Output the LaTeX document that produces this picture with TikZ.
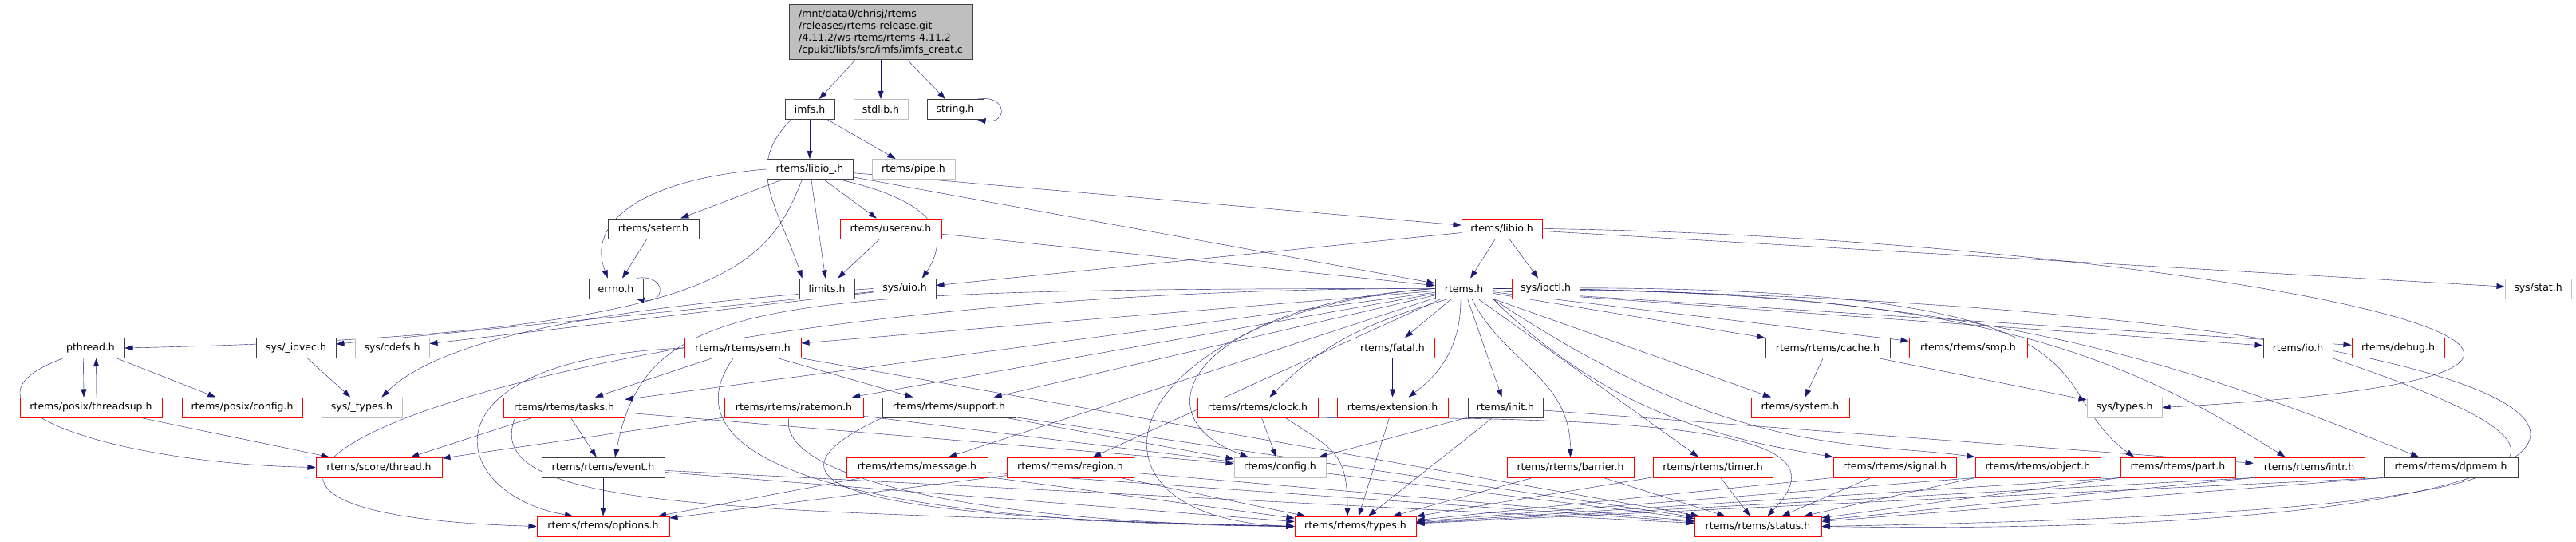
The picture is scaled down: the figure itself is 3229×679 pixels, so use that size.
\documentclass[tikz,border=0pt]{standalone}
\usepackage{fontspec}
\setmainfont{DejaVu Sans}
\usetikzlibrary{arrows.meta}
\definecolor{edgeblue}{RGB}{25,25,112}
\definecolor{boxgray}{RGB}{191,191,191}
\definecolor{boxdark}{RGB}{64,64,64}
\definecolor{boxred}{RGB}{255,0,0}
\pgfdeclarelayer{bg}
\pgfsetlayers{bg,main}

\begin{document}
\begin{tikzpicture}[x=1pt, y=-1pt, line width=1pt,
    >={Triangle[length=10pt,width=7pt]},
    filebox/.style={rectangle, fill=white, inner sep=0pt, minimum height=25,
        font=\fontsize{12.5}{15}\selectfont}]

    \useasboundingbox (0,0) rectangle (3229,679);

    \node[filebox, draw=boxdark, fill=boxgray, align=left, minimum width=230, minimum height=69] (top) at (1104,40.5)
        {/mnt/data0/chrisj/rtems\\/releases/rtems-release.git\\/4.11.2/ws-rtems/rtems-4.11.2\\/cpukit/libfs/src/imfs/imfs\_creat.c};

    \begin{scope}[every node/.style={filebox, draw=boxdark}]
    \node[minimum width=62] (imfs) at (1015,137) {imfs.h};
    \node[minimum width=71] (string) at (1197.5,137) {string.h};
    \node[minimum width=108] (libiou) at (1015,212) {rtems/libio\_.h};
    \node[minimum width=114] (seterr) at (819,286.5) {rtems/seterr.h};
    \node[minimum width=68] (errno) at (772,361.5) {errno.h};
    \node[minimum width=69] (limits) at (1036.5,361.5) {limits.h};
    \node[minimum width=78] (uio) at (1134,361.5) {sys/uio.h};
    \node[minimum width=72] (rtems) at (1835,361.5) {rtems.h};
    \node[minimum width=85] (pthread) at (113.5,436) {pthread.h};
    \node[minimum width=100] (iovec) at (371,436) {sys/\_iovec.h};
    \node[minimum width=156] (cache) at (2291,436) {rtems/rtems/cache.h};
    \node[minimum width=87] (io) at (2880.5,436) {rtems/io.h};
    \node[minimum width=167] (support) at (1189.5,510.5) {rtems/rtems/support.h};
    \node[minimum width=94] (init) at (1887,510.5) {rtems/init.h};
    \node[minimum width=154] (event) at (756,585.5) {rtems/rtems/event.h};
    \node[minimum width=168] (dpmem) at (3072,585.5) {rtems/rtems/dpmem.h};
    \end{scope}

    \begin{scope}[every node/.style={filebox, draw=boxred}]
    \node[minimum width=127] (userenv) at (1116.5,286.5) {rtems/userenv.h};
    \node[minimum width=101] (libio) at (1882.5,286.5) {rtems/libio.h};
    \node[minimum width=85] (ioctl) at (1937.5,361.5) {sys/ioctl.h};
    \node[minimum width=146] (sem) at (931,436) {rtems/rtems/sem.h};
    \node[minimum width=105] (fatal) at (1745.5,436) {rtems/fatal.h};
    \node[minimum width=148] (smp) at (2467,436) {rtems/rtems/smp.h};
    \node[minimum width=116] (debug) at (3006,436) {rtems/debug.h};
    \node[minimum width=178] (threadsup) at (114,510.5) {rtems/posix/threadsup.h};
    \node[minimum width=151] (pconfig) at (303.5,510.5) {rtems/posix/config.h};
    \node[minimum width=152] (tasks) at (707,510.5) {rtems/rtems/tasks.h};
    \node[minimum width=174] (ratemon) at (995,510.5) {rtems/rtems/ratemon.h};
    \node[minimum width=151] (clock) at (1576.5,510.5) {rtems/rtems/clock.h};
    \node[minimum width=139] (extension) at (1745.5,510.5) {rtems/extension.h};
    \node[minimum width=123] (system) at (2256.5,510.5) {rtems/system.h};
    \node[minimum width=158] (thread) at (475,585.5) {rtems/score/thread.h};
    \node[minimum width=177] (message) at (1149.5,585.5) {rtems/rtems/message.h};
    \node[minimum width=159] (region) at (1341.5,585.5) {rtems/rtems/region.h};
    \node[minimum width=159] (barrier) at (1968.5,585.5) {rtems/rtems/barrier.h};
    \node[minimum width=150] (timer) at (2147,585.5) {rtems/rtems/timer.h};
    \node[minimum width=154] (signal) at (2375,585.5) {rtems/rtems/signal.h};
    \node[minimum width=157] (object) at (2554.5,585.5) {rtems/rtems/object.h};
    \node[minimum width=144] (part) at (2730,585.5) {rtems/rtems/part.h};
    \node[minimum width=139] (intr) at (2894.5,585.5) {rtems/rtems/intr.h};
    \node[minimum width=166] (options) at (756,659.5) {rtems/rtems/options.h};
    \node[minimum width=152] (types) at (1699,659.5) {rtems/rtems/types.h};
    \node[minimum width=159] (status) at (2203.5,659.5) {rtems/rtems/status.h};
    \end{scope}

    \begin{scope}[every node/.style={filebox, draw=boxgray}]
    \node[minimum width=68] (stdlib) at (1104,137) {stdlib.h};
    \node[minimum width=104] (pipe) at (1145,212) {rtems/pipe.h};
    \node[minimum width=83] (stat) at (3181.5,361.5) {sys/stat.h};
    \node[minimum width=93] (cdefs) at (491.5,436) {sys/cdefs.h};
    \node[minimum width=101] (sutypes) at (453.5,510.5) {sys/\_types.h};
    \node[minimum width=94] (systypes) at (2663,510.5) {sys/types.h};
    \node[minimum width=115] (config) at (1604.5,585.5) {rtems/config.h};
    \end{scope}

    \begin{pgfonlayer}{bg}
    \begin{scope}[->, edgeblue]
    % source file and imfs.h
    \draw (top) -- (imfs);
    \draw (top) -- (stdlib);
    \draw (top) -- (string);
    \draw ([xshift=-8pt]string.north east) .. controls +(38,-6) and +(38,6) .. ([xshift=-8pt]string.south east);
    \draw (imfs) -- (libiou);
    \draw (imfs) -- (pipe);
    \draw ([xshift=8pt]imfs.south west) .. controls +(-60,60) and +(-30,-90) .. ([xshift=4pt]limits.north west);

    % libio_.h
    \draw (libiou) -- (seterr);
    \draw (libiou.west) .. controls +(-160,13) and +(-27,-68) .. ([xshift=-10pt]errno.north);
    \draw (libiou) -- (limits);
    \draw (libiou) -- (userenv);
    \draw ([xshift=-17pt]libiou.south east) .. controls +(110,25) and +(40,-60) .. ([xshift=22pt]uio.north);
    \draw (libiou) -- (rtems);
    \draw (libiou) -- (libio);
    \draw ([xshift=45pt]libiou.south west) .. controls +(-46,115) and +(744,-16) .. (pthread.east);
    \draw (seterr) -- (errno);
    \draw ([xshift=-9pt]errno.north east) .. controls +(38,-6) and +(38,6) .. ([xshift=-9pt]errno.south east);
    \draw (userenv) -- (limits);
    \draw (userenv) -- (rtems);

    % libio.h
    \draw (libio) -- (rtems);
    \draw (libio) -- (ioctl);
    \draw (libio) -- (uio);
    \draw (libio) -- (stat);
    \draw (libio.east) .. controls +(770,10) and +(900,-50) .. (systypes.east);

    % sys/uio.h and pthread.h
    \draw (uio) -- (iovec);
    \draw (uio) -- (cdefs);
    \draw (uio.west) .. controls +(-300,20) and +(80,-80) .. ([xshift=25pt]sutypes.north);
    \draw (iovec) -- (sutypes);
    \draw ([xshift=-9pt]pthread.south) -- ([xshift=-9pt]threadsup.north);
    \draw ([xshift=7pt]threadsup.north) -- ([xshift=7pt]pthread.south);
    \draw (pthread) -- (pconfig);
    \draw ([xshift=8pt]pthread.south west) .. controls +(-160,60) and +(-250,-5) .. (thread.west);
    \draw (threadsup) -- (thread);

    % rtems.h
    \draw (rtems) -- (sem);
    \draw (rtems) -- (tasks);
    \draw (rtems) -- (ratemon);
    \draw (rtems) -- (support);
    \draw (rtems.west) .. controls +(-850,0) and +(40,-200) .. ([xshift=15pt]event.north);
    \draw (rtems) -- (message);
    \draw (rtems) -- (region);
    \draw (rtems) -- (fatal);
    \draw ([xshift=-4pt]rtems.south) .. controls +(0,60) and +(40,-30) .. ([xshift=20pt]extension.north);
    \draw (rtems) -- (init);
    \draw ([xshift=-20pt]rtems.south) .. controls +(-100,30) and +(70,-70) .. ([xshift=15pt]clock.north);
    \draw (rtems.west) .. controls +(-299,19) and +(-144.5,-53) .. ([xshift=-40pt]config.north);
    \draw ([xshift=10pt]rtems.south) .. controls +(40,80) and +(0,-100) .. (barrier.north);
    \draw (rtems) -- (timer);
    \draw (rtems.south east) .. controls +(150,150) and +(-120,-20) .. (signal.north west);
    \draw (rtems.south east) .. controls +(300,200) and +(-150,-20) .. (object.north west);
    \draw (rtems.east) .. controls +(829,-11.5) and +(-130,-93) .. ([xshift=-55pt]part.north);
    \draw (rtems.east) .. controls +(600,0) and +(-214.5,-133) .. ([xshift=-30pt]intr.north);
    \draw (rtems.east) .. controls +(600,0) and +(-300,-120) .. ([xshift=-40pt]dpmem.north);
    \draw (rtems) -- (cache);
    \draw (rtems) -- (smp);
    \draw (rtems) -- (system);
    \draw (rtems) -- (io);
    \draw (rtems) -- (debug);
    \draw (rtems.west) .. controls +(-400,30) and +(-300,-10) .. (types.west);
    \draw (rtems.east) .. controls +(1629,20) and +(1267,20) .. (status.east);
    \draw (rtems.west) .. controls +(-1099,-1.5) and +(-673,-20) .. (options.west);

    % second level
    \draw (sem) -- (tasks);
    \draw (sem) -- (support);
    \draw (sem.west) .. controls +(-338,14) and +(-158,-27) .. ([xshift=-38pt]options.north);
    \draw ([xshift=-12pt]sem.south) .. controls +(-79,111) and +(-623,-5) .. (types.west);
    \draw (sem) -- (status);
    \draw (tasks) -- (thread);
    \draw (tasks) -- (event);
    \draw (tasks) -- (config);
    \draw ([xshift=15pt]tasks.south west) .. controls +(-46,117) and +(-700,-20) .. (types.west);
    \draw (ratemon) -- (thread);
    \draw ([xshift=-6pt]ratemon.south) .. controls +(-15,70) and +(-420,-5) .. (types.west);
    \draw (ratemon) -- (status);
    \draw (support) -- (config);
    \draw (support.south west) .. controls +(-206,97) and +(-473,-9.5) .. (types.west);
    \draw (support) -- (status);
    \draw (fatal) -- (extension);
    \draw (extension) -- (types);
    \draw (clock) -- (config);
    \draw ([xshift=35pt]clock.south) .. controls +(60,40) and +(0,-80) .. ([xshift=-10pt]types.north);
    \draw (clock.south east) .. controls +(548,-3) and +(84.5,-87) .. ([xshift=12pt]status.north);
    \draw (init) -- (config);
    \draw (init) -- (types);
    \draw (init) -- (intr);
    \draw (cache) -- (system);
    \draw (cache) -- (systypes);

    % into options.h, types.h and status.h
    \draw (event) -- (options);
    \draw (event) -- (types);
    \draw (event) -- (status);
    \draw (message) -- (options);
    \draw (message) -- (types);
    \draw (message) -- (status);
    \draw (region) -- (options);
    \draw (region) -- (types);
    \draw (region) -- (status);
    \draw (barrier) -- (types);
    \draw (barrier) -- (status);
    \draw (timer) -- (types);
    \draw (timer) -- (status);
    \draw (signal.south west) -- (types);
    \draw (signal) -- (status);
    \draw (object.south west) -- (types);
    \draw (object.south west) -- (status);
    \draw (part.south west) -- (types);
    \draw (part.south west) -- (status);
    \draw (intr.south west) -- (types);
    \draw (intr.south west) -- (status);
    \draw (dpmem.south west) -- (types);
    \draw (dpmem.south west) -- (status);
    \draw (io.south east) .. controls +(326,111) and +(1067,-19.5) .. (status.east);
    \end{scope}
    \end{pgfonlayer}

\end{tikzpicture}
\end{document}
